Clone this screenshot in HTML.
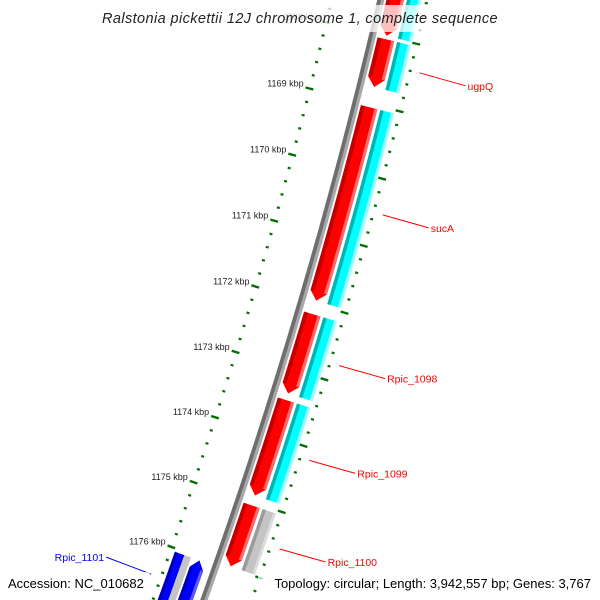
<!DOCTYPE html>
<html><head><meta charset="utf-8"><style>
html,body{margin:0;padding:0;background:#fff;overflow:hidden;}
svg{display:block;font-family:"Liberation Sans","DejaVu Sans",sans-serif;}
</style></head><body>
<svg id="map" width="600" height="600" viewBox="0 0 600 600" xmlns="http://www.w3.org/2000/svg">
<rect width="600" height="600" fill="#fff"/>
<g id="tracks"></g>
<g id="ticks"></g>
<g id="labels"></g>
<rect x="98" y="5" width="404" height="27" fill="#fff" fill-opacity="0.75"/>
<text x="300" y="23" text-anchor="middle" font-size="14.5" font-style="italic" fill="#222" letter-spacing="0.4">Ralstonia pickettii 12J chromosome 1, complete sequence</text>
<rect x="4" y="572" width="146" height="22" fill="#fff" fill-opacity="0.75"/>
<text x="8" y="588" font-size="13" fill="#000">Accession: NC_010682</text>
<rect x="258" y="572" width="338" height="22" fill="#fff" fill-opacity="0.75"/>
<text x="591" y="588" text-anchor="end" font-size="13" fill="#000">Topology: circular; Length: 3,942,557 bp; Genes: 3,767</text>
</svg>
<script>
// ---- data ----
const geneNames  = ["", "ugpQ", "sucA", "Rpic_1098", "Rpic_1099", "Rpic_1100", "Rpic_1101"];
const geneStarts = [1166.5, 1168.04, 1169.05, 1172.15, 1173.45, 1175.05, 1176.05]; // kbp
const geneEnds   = [1167.99, 1168.75, 1171.95, 1173.35, 1174.9, 1175.98, 1176.9];   // kbp
const geneStrand = [1, 1, 1, 1, 1, 1, -1];
const geneCog    = ["cyan", "cyan", "cyan", "cyan", "cyan", "gray", "gray"];
const tickMajors = [1166, 1167, 1168, 1169, 1170, 1171, 1172, 1173, 1174, 1175, 1176, 1177];
const tickLabels = ["1166 kbp","1167 kbp","1168 kbp","1169 kbp","1170 kbp","1171 kbp","1172 kbp","1173 kbp","1174 kbp","1175 kbp","1176 kbp","1177 kbp"];
const minorStep = 0.2;

// ---- geometry (axis functions) ----
const CX = -4856, CY = -1217.6;
function ang(kbp){ return 104.19 + (kbp - 1169) * 0.7357; }
function pt(r, deg){ const a = deg*Math.PI/180; return [CX + r*Math.sin(a), CY - r*Math.cos(a)]; }
const NS = "http://www.w3.org/2000/svg";
function mk(tag, attrs, parent){ const e=document.createElementNS(NS,tag); for(const k in attrs) e.setAttribute(k, attrs[k]); parent.appendChild(e); return e; }
function fmt(p){ return p[0].toFixed(2)+","+p[1].toFixed(2); }
function band(k1, k2, r1, r2, dir){
  let a1 = ang(k1), a2 = ang(k2);
  const tip = 9 / ((r1+r2)/2) * 180/Math.PI;
  let b1 = a1, b2 = a2;
  if(dir===1) b2 = Math.max(a1, a2 - tip);
  if(dir===-1) b1 = Math.min(a2, a1 + tip);
  const pts = [];
  const n = 24;
  for(let i=0;i<=n;i++) pts.push(pt(r2, b1 + (b2-b1)*i/n));
  if(dir===1) pts.push(pt((r1+r2)/2, a2));
  for(let i=n;i>=0;i--) pts.push(pt(r1, b1 + (b2-b1)*i/n));
  if(dir===-1) pts.push(pt((r1+r2)/2, a1));
  return pts.map(fmt).join(" ");
}
const tracks = document.getElementById("tracks");
const ticks = document.getElementById("ticks");
const labels = document.getElementById("labels");

const bb1 = mk("polygon", {points: band(1165, 1178, 5373, 5377, 0), fill:"#6e6e6e"}, tracks);


const bb2 = mk("polygon", {points: band(1165, 1178, 5377, 5380, 0), fill:"#a8a8a8"}, tracks);



const pal = {
  cyan: ["#00b4b4","#00ffff","#9affff"],
  gray: ["#9a9a9a","#c4c4c4","#dcdcdc"]
};
function shadedBand(k1,k2,r1,r2,colors,name){
  const g = mk("g", {}, tracks);
  
  
  const w = r2 - r1;
  mk("polygon", {points: band(k1,k2,r1,r2,0), fill: colors[1]}, g);
  mk("polygon", {points: band(k1,k2,r1,r1+w*0.25,0), fill: colors[0]}, g);
  mk("polygon", {points: band(k1,k2,r2-w*0.2,r2,0), fill: colors[2]}, g);
  return g;
}
for(let i=0;i<geneNames.length;i++){
  const s = geneStarts[i], e = geneEnds[i];
  const nm = geneNames[i] ? geneNames[i].toLowerCase() : 'upstream-gene';
  const tipK = 9/5390*180/Math.PI/0.7357;
  if(geneStrand[i]===1){
    const g = mk("g", {}, tracks);
    
    
    mk("polygon", {points: band(s,e,5382,5399,1), fill: "#ff0000"}, g);
    mk("polygon", {points: band(s,e-tipK,5382,5386,0), fill: "#c00000"}, g);
    mk("polygon", {points: band(s,e-tipK,5396,5399,0), fill: "#ff6a6a"}, g);
    shadedBand(s,e,5402,5416,pal[geneCog[i]],'cog-' + nm);
  } else {
    const g = mk("g", {}, tracks);
    
    
    mk("polygon", {points: band(s,e,5352,5366,-1), fill: "#0000ff"}, g);
    mk("polygon", {points: band(s+tipK,e,5352,5355,0), fill: "#0000b0"}, g);
    mk("polygon", {points: band(s+tipK,e,5363,5366,0), fill: "#5a5aff"}, g);
    const g2 = mk("g", {}, tracks);
    
    
    mk("polygon", {points: band(s,e,5333,5343,0), fill: "#0000ff"}, g2);
    mk("polygon", {points: band(s,e,5333,5336,0), fill: "#0000b0"}, g2);
    mk("polygon", {points: band(s,e,5343,5350,0), fill: "#c4c4c4"}, g2);
  }
}

function tickLine(kbp, r1, r2, w, name){
  const a = ang(kbp), p1 = pt(r1,a), p2 = pt(r2,a);
  const l = mk("line", {x1:p1[0].toFixed(2), y1:p1[1].toFixed(2), x2:p2[0].toFixed(2), y2:p2[1].toFixed(2), stroke:"#007000", "stroke-width":w}, ticks);
  
  
}
for(let k = 1165; k <= 1178.001; k += minorStep){
  const kk = Math.round(k*10)/10;
  if(Math.abs(kk - Math.round(kk)) < 1e-6) continue;
  tickLine(kk, 5327, 5330, 2.2, 'minor-tick-inner');
  tickLine(kk, 5420, 5423, 2.2, 'minor-tick-outer');
}
for(let i=0;i<tickMajors.length;i++){
  const k = tickMajors[i];
  tickLine(k, 5324, 5332, 2.4, 'major-tick-inner');
  tickLine(k, 5417, 5425, 2.4, 'major-tick-outer');
  const p = pt(5324, ang(k));
  const t = mk("text", {x:(p[0]-2).toFixed(1), y:(p[1]-1).toFixed(1), "text-anchor":"end", "font-size":"9", fill:"#222"}, ticks);
  
  
  t.textContent = tickLabels[i];
}

for(let i=0;i<geneNames.length;i++){
  if(!geneNames[i]) continue;
  const mid = (geneStarts[i]+geneEnds[i])/2;
  const fwd = geneStrand[i]===1;
  const color = fwd ? "#ff0000" : "#0000ff";
  const p = pt(fwd ? 5431 : 5318, ang(mid));
  const q = fwd ? [p[0]+46, p[1]+13] : [p[0]-45, p[1]-17];
  const l = mk("line", {x1:p[0].toFixed(1), y1:p[1].toFixed(1), x2:q[0].toFixed(1), y2:q[1].toFixed(1), stroke:color, "stroke-width":1}, labels);
  
  
  const t = mk("text", {x:(fwd ? q[0]+2 : q[0]-2).toFixed(1), y:(q[1]+4).toFixed(1), "text-anchor": fwd ? "start":"end", "font-size":"10.5", fill:color}, labels);
  
  
  t.textContent = geneNames[i];
}
</script>
</body></html>
